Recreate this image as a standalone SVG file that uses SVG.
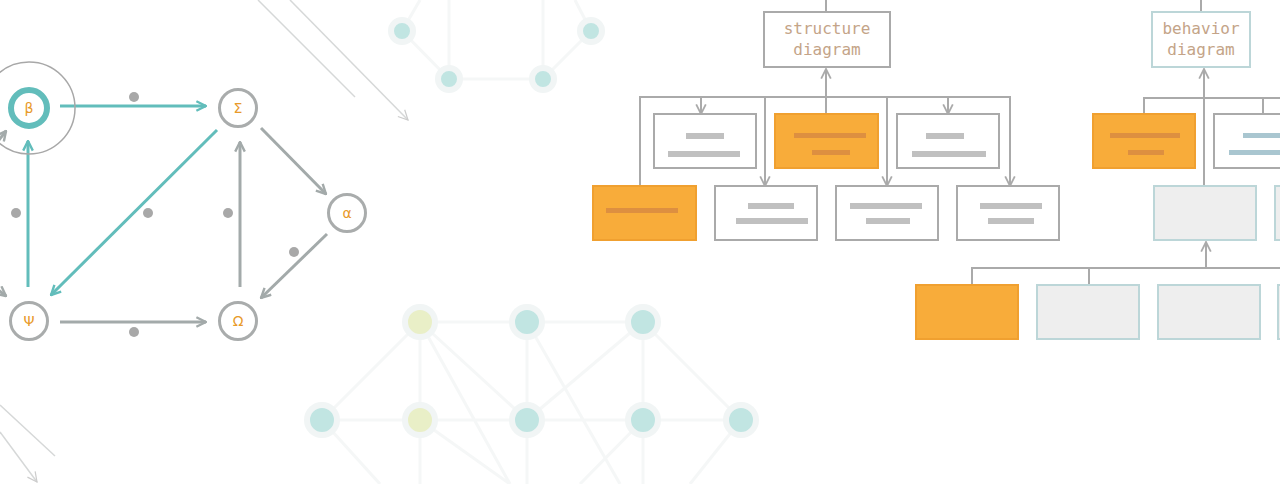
<svg xmlns="http://www.w3.org/2000/svg" width="1280" height="484" viewBox="0 0 1280 484">
<defs>
<style>
.t{fill:#e89a2a;font-family:"DejaVu Sans",sans-serif;font-size:14px;text-anchor:middle;dominant-baseline:central}
.n{fill:#fff;stroke:#a9acac;stroke-width:3}
.tl{stroke:#62bdbb;stroke-width:3;fill:none}
.gl{stroke:#a3aaaa;stroke-width:3;fill:none}
.dot{fill:#a8a8a8}
.h{stroke:#aaa;stroke-width:2;fill:none}
.wb{fill:#fff;stroke:#aaa;stroke-width:2}
.ob{fill:#f8ac3a;stroke:#f0a030;stroke-width:2}
.gb{fill:#eeeeee;stroke:#bcd6d8;stroke-width:2}
.bar{fill:#c0c0c0}
.obar{fill:#dd8f40}
.lbl{fill:#c4a488;font-family:"DejaVu Sans Mono","Liberation Mono",monospace;font-size:16px;text-anchor:middle}
.fn{fill:#8fd0cc;stroke:#e6eded;stroke-width:6}
.fy{fill:#d8e29a}
.fl{stroke:#eef1f1;stroke-width:3;fill:none}
</style>
<marker id="at" viewBox="0 0 10 10" refX="9" refY="5" markerWidth="4" markerHeight="4" orient="auto"><path d="M1,1 L9,5 L1,9" fill="none" stroke="#62bdbb" stroke-width="2"/></marker>
<marker id="ag" viewBox="0 0 10 10" refX="9" refY="5" markerWidth="4" markerHeight="4" orient="auto"><path d="M1,1 L9,5 L1,9" fill="none" stroke="#a3aaaa" stroke-width="2"/></marker>
<marker id="ah" viewBox="0 0 10 10" refX="9" refY="5" markerWidth="6" markerHeight="6" orient="auto"><path d="M1,1 L9,5 L1,9" fill="none" stroke="#aaa" stroke-width="1.5"/></marker>
<marker id="ad" viewBox="0 0 10 10" refX="9" refY="5" markerWidth="8" markerHeight="8" orient="auto"><path d="M1,1 L9,5 L1,9" fill="none" stroke="#ccc" stroke-width="1"/></marker>
</defs>
<rect width="1280" height="484" fill="#fff"/>
<g opacity="0.55">
<path class="fl" d="M402,31 L449,79 L543,79 L591,31 M449,79 V0 M543,79 V0 M402,31 L420,0 M591,31 L575,0"/>
<circle cx="402" cy="31" r="11" class="fn"/>
<circle cx="591" cy="31" r="11" class="fn"/>
<circle cx="449" cy="79" r="11" class="fn"/>
<circle cx="543" cy="79" r="11" class="fn"/>
</g>
<g opacity="0.55">
<path class="fl" d="M322,420 L420,322 M322,420 H420 H527 H643 H741 M420,322 H527 H643 M420,322 V420 V484 M527,322 V420 V484 M643,322 V420 V484 M643,322 L741,420 M527,420 L643,322 M420,322 L527,420 M420,322 L510,484 M527,322 L620,484 M420,420 L510,484 M643,420 L580,484 M322,420 L380,484 M741,420 L690,484"/>
<circle cx="420" cy="322" r="15" class="fn fy"/>
<circle cx="527" cy="322" r="15" class="fn"/>
<circle cx="643" cy="322" r="15" class="fn"/>
<circle cx="322" cy="420" r="15" class="fn"/>
<circle cx="420" cy="420" r="15" class="fn fy"/>
<circle cx="527" cy="420" r="15" class="fn"/>
<circle cx="643" cy="420" r="15" class="fn"/>
<circle cx="741" cy="420" r="15" class="fn"/>
</g>
<g stroke="#d6d8d8" stroke-width="1.5" fill="none">
<path d="M258,0 L355,97"/>
<path d="M290,0 L408,120" marker-end="url(#ad)"/>
<path d="M0,405 L55,456"/>
<path d="M0,432 L37,482" marker-end="url(#ad)"/>
</g>
<g id="connectors">
<path class="tl" d="M60,106 H206" marker-end="url(#at)"/>
<path class="tl" d="M217,130 L51,295" marker-end="url(#at)"/>
<path class="tl" d="M28,287 V141" marker-end="url(#at)"/>
<path class="gl" d="M240,287 V142" marker-end="url(#ag)"/>
<path class="gl" d="M261,128 L326,194" marker-end="url(#ag)"/>
<path class="gl" d="M327,234 L261,298" marker-end="url(#ag)"/>
<path class="gl" d="M60,322 H206" marker-end="url(#ag)"/>
<path class="gl" d="M-5,145 L6,131" marker-end="url(#ag)"/>
<path class="gl" d="M-8,285 L6,296" marker-end="url(#ag)"/>
<circle class="dot" cx="134" cy="97" r="5"/>
<circle class="dot" cx="148" cy="213" r="5"/>
<circle class="dot" cx="16" cy="213" r="5"/>
<circle class="dot" cx="228" cy="213" r="5"/>
<circle class="dot" cx="294" cy="252" r="5"/>
<circle class="dot" cx="134" cy="332" r="5"/>
</g>
<circle cx="29" cy="108" r="46" fill="none" stroke="#a8a8a8" stroke-width="1.5"/>
<g id="beta"><circle cx="29" cy="108" r="18" fill="#fff" stroke="#62bdbb" stroke-width="6"/><text class="t" x="29" y="108">β</text></g>
<g id="sigma"><circle class="n" cx="238" cy="108" r="18.5"/><text class="t" x="238" y="108">Σ</text></g>
<g id="alpha"><circle class="n" cx="347" cy="213" r="18.5"/><text class="t" x="347" y="213">α</text></g>
<g id="psi"><circle class="n" cx="29" cy="321" r="18.5"/><text class="t" x="29" y="321">Ψ</text></g>
<g id="omega"><circle class="n" cx="238" cy="321" r="18.5"/><text class="t" x="238" y="321">Ω</text></g>
<g id="tree-connectors" class="h">
<path d="M826,0 V12"/>
<path d="M826,114 V69" marker-end="url(#ah)"/>
<path d="M640,186 V97 H1010 V186" marker-end="url(#ah)"/>
<path d="M701,97 V114" marker-end="url(#ah)"/>
<path d="M948,97 V114" marker-end="url(#ah)"/>
<path d="M765,97 V186" marker-end="url(#ah)"/>
<path d="M887,97 V186" marker-end="url(#ah)"/>
<path d="M1201,0 V12"/>
<path d="M1204,186 V69" marker-end="url(#ah)"/>
<path d="M1144,114 V98 H1280 M1263,98 V114"/>
<path d="M1206,268 V242" marker-end="url(#ah)"/>
<path d="M972,285 V268 H1280 M1089,268 V285"/>
</g>
<g id="structure"><rect class="wb" x="764" y="12" width="126" height="55"/><text class="lbl" x="827" y="34">structure</text><text class="lbl" x="827" y="55">diagram</text></g>
<g id="behavior"><rect x="1152" y="12" width="98" height="55" fill="#fff" stroke="#bcd6d8" stroke-width="2"/><text class="lbl" x="1201" y="34">behavior</text><text class="lbl" x="1201" y="55">diagram</text></g>
<g id="s1"><rect class="wb" x="654" y="114" width="102" height="54"/><rect class="bar" x="686" y="133" width="38" height="6"/><rect class="bar" x="668" y="151" width="72" height="6"/></g>
<g id="s2"><rect class="ob" x="775" y="114" width="103" height="54"/><rect class="obar" x="794" y="133" width="72" height="5"/><rect class="obar" x="812" y="150" width="38" height="5"/></g>
<g id="s3"><rect class="wb" x="897" y="114" width="102" height="54"/><rect class="bar" x="926" y="133" width="38" height="6"/><rect class="bar" x="912" y="151" width="74" height="6"/></g>
<g id="s4"><rect class="ob" x="593" y="186" width="103" height="54"/><rect class="obar" x="606" y="208" width="72" height="5"/></g>
<g id="s5"><rect class="wb" x="715" y="186" width="102" height="54"/><rect class="bar" x="748" y="203" width="46" height="6"/><rect class="bar" x="736" y="218" width="72" height="6"/></g>
<g id="s6"><rect class="wb" x="836" y="186" width="102" height="54"/><rect class="bar" x="850" y="203" width="72" height="6"/><rect class="bar" x="866" y="218" width="44" height="6"/></g>
<g id="s7"><rect class="wb" x="957" y="186" width="102" height="54"/><rect class="bar" x="980" y="203" width="62" height="6"/><rect class="bar" x="988" y="218" width="46" height="6"/></g>
<g id="b1"><rect class="ob" x="1093" y="114" width="102" height="54"/><rect class="obar" x="1110" y="133" width="70" height="5"/><rect class="obar" x="1128" y="150" width="36" height="5"/></g>
<g id="b2"><rect class="wb" x="1214" y="114" width="80" height="54"/><rect x="1243" y="133" width="50" height="5" fill="#a9c6d0"/><rect x="1229" y="150" width="60" height="5" fill="#a9c6d0"/></g>
<g id="b3"><rect class="gb" x="1154" y="186" width="102" height="54"/></g>
<g id="b4"><rect class="gb" x="1275" y="186" width="20" height="54"/></g>
<g id="b5"><rect class="ob" x="916" y="285" width="102" height="54"/></g>
<g id="b6"><rect class="gb" x="1037" y="285" width="102" height="54"/></g>
<g id="b7"><rect class="gb" x="1158" y="285" width="102" height="54"/></g>
<g id="b8"><rect class="gb" x="1278" y="285" width="20" height="54"/></g>
</svg>
